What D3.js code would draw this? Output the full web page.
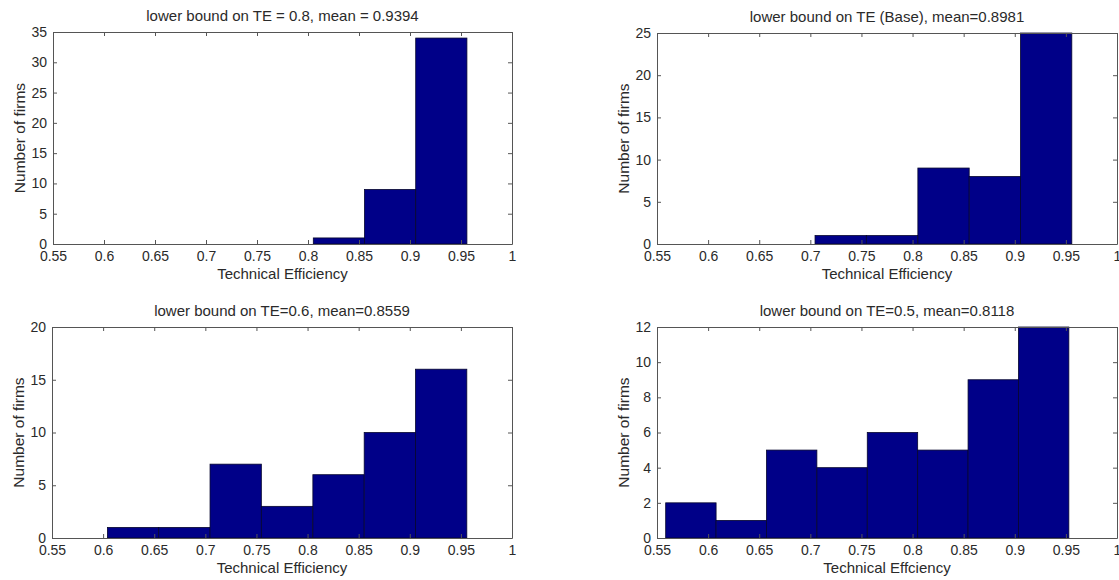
<!DOCTYPE html>
<html>
<head>
<meta charset="utf-8">
<script src="https://cdn.jsdelivr.net/npm/d3@7"></script>
<style>
  html, body { margin: 0; padding: 0; background: #fff; }
  svg { display: block; }
  text { font-family: "Liberation Sans", Arial, sans-serif; fill: #2a2a2a; }
</style>
</head>
<body>
<svg id="chart" width="1119" height="580"></svg>
<script>
// Histograms of technical efficiency for four lower-bound settings.
// Each panel: lower edges of the bins and the firm counts.
const titles = [
  "lower bound on TE = 0.8, mean = 0.9394",
  "lower bound on TE (Base), mean=0.8981",
  "lower bound on TE=0.6, mean=0.8559",
  "lower bound on TE=0.5, mean=0.8118"
];
const xLabels = [
  "Technical Efficiency",
  "Technical Efficiency",
  "Technical Efficiency",
  "Technical Effciency"
];
const yLabel = "Number of firms";

const binStarts1 = [0.8052, 0.8554, 0.9056];
const counts1 = [1, 9, 34];

const binStarts2 = [0.7046, 0.7548, 0.8052, 0.8554, 0.9056];
const counts2 = [1, 1, 9, 8, 25];

const binStarts3 = [0.6042, 0.6544, 0.7046, 0.7548, 0.8052, 0.8554, 0.9056];
const counts3 = [1, 1, 7, 3, 6, 10, 16];

const binStarts4 = [0.5585, 0.6078, 0.6571, 0.7064, 0.7557, 0.805, 0.8543, 0.9036];
const counts4 = [2, 1, 5, 4, 6, 5, 9, 12];
const binWidth = [0.0502, 0.0502, 0.0502, 0.0493];

const xDomain = [0.55, 1];
const xTicks = [0.55, 0.6, 0.65, 0.7, 0.75, 0.8, 0.85, 0.9, 0.95, 1];
const yMax = [35, 25, 20, 12];
const yTicks = [
  [0, 5, 10, 15, 20, 25, 30, 35],
  [0, 5, 10, 15, 20, 25],
  [0, 5, 10, 15, 20],
  [0, 2, 4, 6, 8, 10, 12]
];

const panels = [
  { starts: binStarts1, counts: counts1, box: { x0: 53, x1: 512, y0: 32, y1: 244 } },
  { starts: binStarts2, counts: counts2, box: { x0: 657, x1: 1117, y0: 33, y1: 244 } },
  { starts: binStarts3, counts: counts3, box: { x0: 52, x1: 512, y0: 327, y1: 538 } },
  { starts: binStarts4, counts: counts4, box: { x0: 657, x1: 1117, y0: 327, y1: 538 } }
];

const svg = d3.select("#chart");
const axisColor = "#555";
const barFill = "#000088";
const tickLen = 4;
const fontFamily = "'Liberation Sans', Arial, sans-serif";

panels.forEach((p, i) => {
  const b = p.box;
  const x = d3.scaleLinear().domain(xDomain).range([b.x0, b.x1]);
  const y = d3.scaleLinear().domain([0, yMax[i]]).range([b.y1, b.y0]);
  const g = svg.append("g");

  // bars
  g.selectAll("rect.bar")
    .data(p.starts.map((s, k) => ({ s, c: p.counts[k] })))
    .join("rect")
    .attr("class", "bar")
    .attr("x", d => x(d.s))
    .attr("width", d => x(d.s + binWidth[i]) - x(d.s))
    .attr("y", d => y(d.c))
    .attr("height", d => y(0) - y(d.c))
    .attr("fill", barFill)
    .attr("stroke", "#06062e")
    .attr("stroke-width", 0.8);

  // axes with inward ticks on all four sides
  const bottom = d3.axisBottom(x).tickValues(xTicks).tickSizeInner(-tickLen).tickSizeOuter(0)
    .tickPadding(7).tickFormat(d => d3.format("~g")(d));
  const top = d3.axisTop(x).tickValues(xTicks).tickSizeInner(-tickLen).tickSizeOuter(0).tickFormat("");
  const left = d3.axisLeft(y).tickValues(yTicks[i]).tickSizeInner(-tickLen).tickSizeOuter(0).tickPadding(6);
  const right = d3.axisRight(y).tickValues(yTicks[i]).tickSizeInner(-tickLen).tickSizeOuter(0).tickFormat("");

  const styleAxis = sel => {
    sel.selectAll("path, line").attr("stroke", axisColor).attr("stroke-width", 1);
    sel.selectAll("text").attr("font-size", 14).attr("fill", "#333")
      .attr("font-family", fontFamily);
  };

  g.append("g").attr("transform", `translate(0,${b.y1})`).call(bottom).call(styleAxis);
  g.append("g").attr("transform", `translate(0,${b.y0})`).call(top).call(styleAxis);
  g.append("g").attr("transform", `translate(${b.x0},0)`).call(left).call(styleAxis);
  g.append("g").attr("transform", `translate(${b.x1},0)`).call(right).call(styleAxis);

  // titles and axis labels
  const cx = (b.x0 + b.x1) / 2;
  g.append("text").attr("x", cx).attr("y", b.y0 - 11)
    .attr("text-anchor", "middle").attr("font-size", 15).text(titles[i]);
  g.append("text").attr("x", cx).attr("y", b.y1 + 35)
    .attr("text-anchor", "middle").attr("font-size", 15).text(xLabels[i]);
  g.append("text")
    .attr("transform", `translate(${b.x0 - 28},${(b.y0 + b.y1) / 2}) rotate(-90)`)
    .attr("text-anchor", "middle").attr("font-size", 15.5).text(yLabel);
});
</script>
</body>
</html>
